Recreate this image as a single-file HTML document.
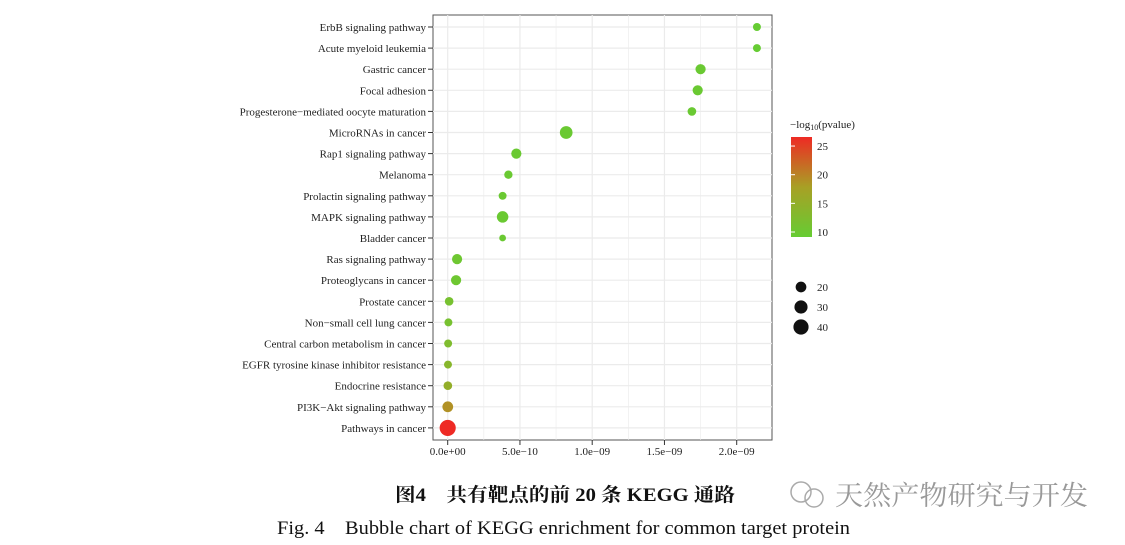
<!DOCTYPE html>
<html><head><meta charset="utf-8">
<style>
html,body{margin:0;padding:0;background:#fff;}
svg{display:block;}
text{font-family:"Liberation Serif","Noto Serif CJK SC",serif;}
</style></head>
<body>
<svg id="chart" width="1125" height="545" viewBox="0 0 1125 545" xmlns="http://www.w3.org/2000/svg">
  <defs>
    <linearGradient id="cbar" x1="0" y1="1" x2="0" y2="0">
      <stop offset="0" stop-color="#66cc33"/>
      <stop offset="0.5" stop-color="#a8a025"/>
      <stop offset="1" stop-color="#ee2a24"/>
    </linearGradient>
  </defs>
  <rect x="433" y="15" width="339" height="425" fill="#fff" stroke="#555" stroke-width="1"/>
  <g id="grid"></g>
  <g id="yaxis"></g>
  <g id="xaxis"></g>
  <g id="points"></g>

  <g>
    <text x="790" y="128" font-size="11" fill="#222">−log<tspan font-size="8" dy="2">10</tspan><tspan dy="-2">(pvalue)</tspan></text>
    <rect x="791" y="137" width="21" height="100" fill="url(#cbar)"/>
    <g id="cbticks"></g>
  </g>
  <g id="sizelegend"></g>

  <text x="395" y="501" font-size="19" font-weight="bold" textLength="340" lengthAdjust="spacingAndGlyphs" fill="#111">图4　共有靶点的前 20 条 KEGG 通路</text>
  <text x="277" y="534" font-size="19" textLength="573" lengthAdjust="spacingAndGlyphs" fill="#111">Fig. 4　Bubble chart of KEGG enrichment for common target protein</text>
  <g>
    <circle cx="801" cy="492" r="10" fill="none" stroke="#aaa" stroke-width="1.5"/>
    <circle cx="814" cy="498" r="9" fill="none" stroke="#aaa" stroke-width="1.5"/>
    <text x="835" y="505" font-size="27" textLength="253" lengthAdjust="spacingAndGlyphs" fill="#999" font-family="Noto Sans CJK SC, sans-serif">天然产物研究与开发</text>
  </g>
</svg>
<script>
const categories = ["ErbB signaling pathway","Acute myeloid leukemia","Gastric cancer","Focal adhesion","Progesterone−mediated oocyte maturation","MicroRNAs in cancer","Rap1 signaling pathway","Melanoma","Prolactin signaling pathway","MAPK signaling pathway","Bladder cancer","Ras signaling pathway","Proteoglycans in cancer","Prostate cancer","Non−small cell lung cancer","Central carbon metabolism in cancer","EGFR tyrosine kinase inhibitor resistance","Endocrine resistance","PI3K−Akt signaling pathway","Pathways in cancer"];
const pvalues = [2.14e-9,2.14e-9,1.75e-9,1.73e-9,1.69e-9,8.2e-10,4.75e-10,4.2e-10,3.8e-10,3.8e-10,3.8e-10,6.5e-11,5.8e-11,1.0e-11,5e-12,3e-12,2e-12,1e-12,5e-13,1e-26];
const counts = [11,11,18,18,13,28,18,12,11,23,8,18,18,13,11,11,11,13,20,45];
const neglog = [10,10,10.5,10.5,10.5,10.5,10.5,10.5,10.5,10.5,10.5,11,11,12,12,13,14,15.5,19,26];
const xTicks = [0,5e-10,1e-9,1.5e-9,2e-9];
const xTickLabels = ["0.0e+00","5.0e−10","1.0e−09","1.5e−09","2.0e−09"];
const colorTicks = [10,15,20,25];
const sizeTicks = [20,30,40];

const NS="http://www.w3.org/2000/svg";
function el(tag,attrs,parent){const e=document.createElementNS(NS,tag);for(const k in attrs)e.setAttribute(k,attrs[k]);parent.appendChild(e);return e;}
const X0=447.7, XPX=144.5e9;
const xs = v => X0 + v*XPX;
const ys = i => 27 + i*21.1;
const rs = c => 1.2*Math.sqrt(c);
const cy = v => 232 - (v-10)*5.73;
function lerp(a,b,t){return Math.round(a+(b-a)*t);}
function col(v){
  let t=Math.max(0,Math.min(1,(v-10)/16));
  const g=[0x66,0xcc,0x33], m=[0xa8,0xa0,0x25], r=[0xee,0x2a,0x24];
  let a,b,u; if(t<0.5){a=g;b=m;u=t/0.5;}else{a=m;b=r;u=(t-0.5)/0.5;}
  return `rgb(${lerp(a[0],b[0],u)},${lerp(a[1],b[1],u)},${lerp(a[2],b[2],u)})`;
}
const grid=document.getElementById('grid');
for(let k=-0.5;k<=4.6;k+=0.5){const x=xs(k*5e-10);if(x<433||x>772)continue;
  const ln=el('line',{x1:x,x2:x,y1:15,y2:440,stroke:'#ebebeb','stroke-width':Number.isInteger(k)?1.2:0.6},grid);
  
  
}
const yax=document.getElementById('yaxis');
categories.forEach((c,i)=>{
  const ln=el('line',{x1:433,x2:772,y1:ys(i),y2:ys(i),stroke:'#ebebeb','stroke-width':1.2},grid);
  
  
  const tk=el('line',{x1:428,x2:433,y1:ys(i),y2:ys(i),stroke:'#333'},yax);
  
  
  const t=el('text',{x:426,y:ys(i)+4,'font-size':11,'text-anchor':'end',fill:'#222'},yax);
  t.textContent=c;
  
  
});
const xax=document.getElementById('xaxis');
xTicks.forEach((v,i)=>{
  const tk=el('line',{x1:xs(v),x2:xs(v),y1:440,y2:445,stroke:'#333'},xax);
  
  
  const t=el('text',{x:xs(v),y:455,'font-size':11,'text-anchor':'middle',fill:'#222'},xax);
  t.textContent=xTickLabels[i];
  
  
});
const pts=document.getElementById('points');
categories.forEach((c,i)=>{
  const p=el('circle',{cx:xs(pvalues[i]),cy:ys(i),r:rs(counts[i]),fill:col(neglog[i])},pts);
  
  
});
const cbt=document.getElementById('cbticks');
colorTicks.forEach(v=>{
  const ln=el('line',{x1:791,x2:795,y1:cy(v),y2:cy(v),stroke:'#fff'},cbt);
  
  
  const t=el('text',{x:817,y:cy(v)+4,'font-size':11,fill:'#222'},cbt);
  t.textContent=v;
  
  
});
const sl=document.getElementById('sizelegend');
sizeTicks.forEach((v,i)=>{
  const y=287+i*20;
  const c=el('circle',{cx:801,cy:y,r:rs(v),fill:'#111'},sl);
  
  
  const t=el('text',{x:817,y:y+4,'font-size':11,fill:'#222'},sl);
  t.textContent=v;
  
  
});
</script>
</body></html>
